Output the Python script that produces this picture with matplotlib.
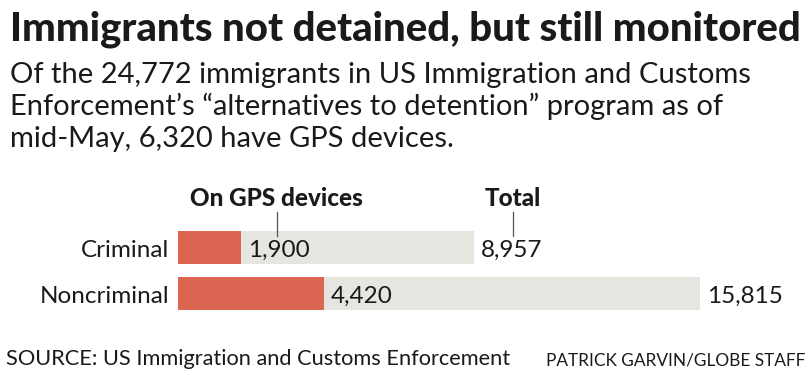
import matplotlib.pyplot as plt
from matplotlib import font_manager

categories = ['Criminal', 'Noncriminal']
gps_devices = [1900, 4420]
totals = [8957, 15815]

title = 'Immigrants not detained, but still monitored'
subtitle = [
    'Of the 24,772 immigrants in US Immigration and Customs',
    'Enforcement\u2019s \u201calternatives to detention\u201d program as of',
    'mid-May, 6,320 have GPS devices.',
]
source = 'SOURCE: US Immigration and Customs Enforcement'
credit = 'PATRICK GARVIN/GLOBE STAFF'

RED = '#dd6652'
GRAY = '#e6e5df'
INK = '#1a1a1a'

names = {f.name for f in font_manager.fontManager.ttflist}
body = next(n for n in ['Lato', 'Roboto', 'DejaVu Sans'] if n in names)
head = next(n for n in ['Liberation Sans Narrow', 'DejaVu Sans Condensed', 'Lato', 'Roboto']
            if n in names)
head_weight = 'bold' if head != 'Lato' else 'black'

W, H = 812, 375
fig = plt.figure(figsize=(W / 100, H / 100), dpi=100)
renderer = fig.canvas.get_renderer()


def fy(py):
    return 1 - py / H


def fit(t, width):
    # scale a text so that it spans the given width in pixels
    w = t.get_window_extent(renderer).width
    t.set_fontsize(t.get_fontsize() * width / w)


t = fig.text(10 / W, fy(41), title, family=head, weight=head_weight, fontsize=30,
             color=INK, va='baseline')
fit(t, 790)
for i, line in enumerate(subtitle):
    t = fig.text(10 / W, fy(83 + 32 * i), line, family=body, fontsize=18, color=INK,
                 va='baseline')
    if i == 0:
        fit(t, 738)
        sub_size = t.get_fontsize()
    else:
        t.set_fontsize(sub_size)

t = fig.text(6 / W, fy(365), source, family=body, fontsize=13, color=INK, va='baseline')
fit(t, 502)
t = fig.text(805 / W, fy(365), credit, family=body, fontsize=13, color=INK,
             va='baseline', ha='right')
fit(t, 257)

# bar area: x=0 at pixel 178, rows 46 px apart
ax_w = W - 178
ax = fig.add_axes([178 / W, fy(320), ax_w / W, 140 / H])
xmax = 19200
ppu = ax_w / xmax
ax.set_xlim(0, xmax)
ax.set_ylim(1 + 26.5 / 46, -67.5 / 46)
ax.axis('off')

ys = list(range(len(categories)))
bh = 33 / 46
ax.barh(ys, totals, height=bh, color=GRAY)
ax.barh(ys, gps_devices, height=bh, color=RED)

for i, cat in enumerate(categories):
    ax.annotate(cat, (0, i), xytext=(-9, -1), textcoords='offset pixels', ha='right',
                va='center_baseline', fontsize=17.5, family=body, color=INK)
    for v in (gps_devices[i], totals[i]):
        ax.annotate(f'{v:,}', (v, i), xytext=(7, -1), textcoords='offset pixels',
                    ha='left', va='center_baseline', fontsize=17.5, family=body, color=INK)

# column headers over the criminal row labels
for v, label, dx in ((gps_devices[0], 'On GPS devices', 36), (totals[0], 'Total', 39)):
    x = v + dx / ppu
    ax.text(x, -41.5 / 46, label, ha='center', va='baseline', fontsize=17.5,
            family=head, weight=head_weight, color=INK)
    ax.plot([x, x], [-35.5 / 46, -11.5 / 46], color='#555555', lw=0.9)

fig.savefig('out.png', dpi=100)
